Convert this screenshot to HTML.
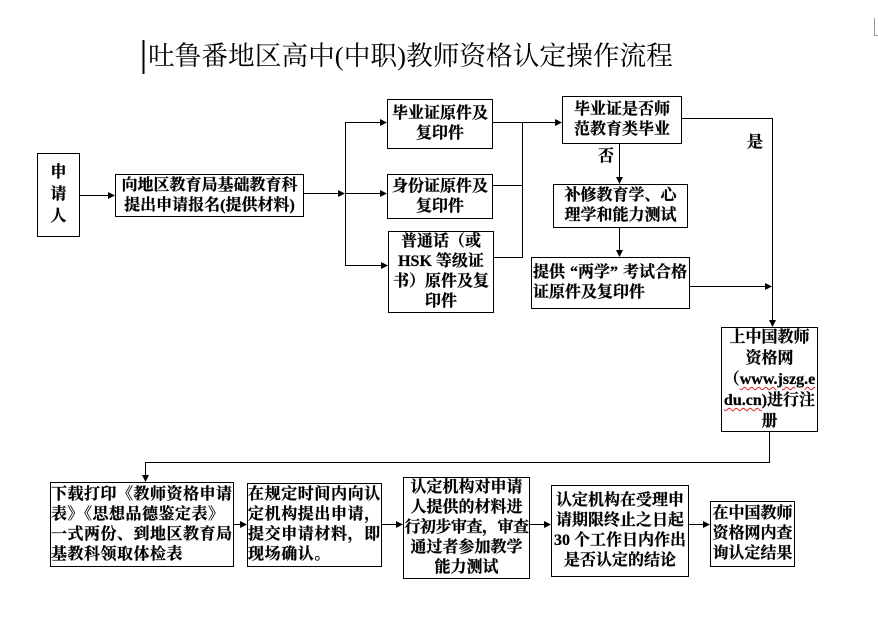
<!DOCTYPE html>
<html><head><meta charset="utf-8"><style>
html,body{margin:0;padding:0;background:#fff;}
body{width:878px;height:623px;position:relative;overflow:hidden;}
.t{position:absolute;font-family:"Liberation Serif","Noto Serif CJK SC",serif;color:#000;white-space:nowrap;}
.b{position:absolute;border:1px solid #000;box-sizing:border-box;display:flex;flex-direction:column;justify-content:center;align-items:center;text-align:center;font-family:"Liberation Serif","Noto Serif CJK SC",serif;font-weight:bold;font-size:16px;line-height:20px;white-space:nowrap;color:#000;background:#fff;-webkit-text-stroke:0.25px #000;}
.b > div{display:block;}
.l{align-items:flex-start;text-align:left;}
.u{text-decoration:underline wavy #e02020;text-decoration-thickness:1px;text-underline-offset:2px;}
.q{display:inline-block;width:13px;}
</style></head><body>
<svg width="878" height="623" style="position:absolute;left:0;top:0" xmlns="http://www.w3.org/2000/svg">
<rect x="142.5" y="40" width="2" height="34" fill="#000"/>
<path d="M874.5 18 V35.5 H878" stroke="#999" fill="none" stroke-width="1"/>
<g stroke="#000" stroke-width="1" fill="none">
<path d="M80 195.5 H110"/>
<path d="M303 193.5 H340"/>
<path d="M345.5 122 V266"/>
<path d="M345 122.5 H382"/>
<path d="M345 193.5 H382"/>
<path d="M345 265.5 H383"/>
<path d="M492 122.5 H557"/>
<path d="M492 185.5 H522"/>
<path d="M493 257.5 H522"/>
<path d="M522.5 122 V258"/>
<path d="M681 118.5 H772.5 V321"/>
<path d="M619.5 143 V178"/>
<path d="M619.5 227 V251"/>
<path d="M689 286.5 H766"/>
<path d="M769.5 431 V462.5 H145.5 V476"/>
<path d="M233 524.5 H241"/>
<path d="M381 524.5 H397"/>
<path d="M529 524.5 H545"/>
<path d="M688 524.5 H704"/>
</g>
<g fill="#000">
<polygon points="115,195.5 108,192 108,199"/>
<polygon points="345,193.5 338,190 338,197"/>
<polygon points="387,122.5 380,119 380,126"/>
<polygon points="387,193.5 380,190 380,197"/>
<polygon points="388,265.5 381,262 381,269"/>
<polygon points="562,122.5 555,119 555,126"/>
<polygon points="772.5,327 769,320 776,320"/>
<polygon points="619.5,184 616,177 623,177"/>
<polygon points="619.5,257 616,250 623,250"/>
<polygon points="772,286.5 765,283 765,290"/>
<polygon points="145.5,482 142,475 149,475"/>
<polygon points="247,524.5 240,521 240,528"/>
<polygon points="403,524.5 396,521 396,528"/>
<polygon points="551,524.5 544,521 544,528"/>
<polygon points="710,524.5 703,521 703,528"/>
</g>
</svg>

<div class="t" style="left:148px;top:41px;font-size:26.7px;line-height:30px;">吐鲁番地区高中(中职)教师资格认定操作流程</div>

<div class="b" style="left:37px;top:153px;width:43px;height:84px;line-height:22px;"><div>申<br>请<br>人</div></div>
<div class="b" style="left:115px;top:174px;width:189px;height:43px;"><div>向地区教育局基础教育科<br>提出申请报名(提供材料)</div></div>

<div class="b" style="left:387px;top:99px;width:106px;height:50px;"><div>毕业证原件及<br>复印件</div></div>
<div class="b" style="left:387px;top:174px;width:106px;height:45px;"><div>身份证原件及<br>复印件</div></div>
<div class="b" style="left:388px;top:231px;width:106px;height:82px;"><div>普通话（或<br>HSK 等级证<br>书）原件及复<br>印件</div></div>

<div class="b" style="left:562px;top:96px;width:120px;height:48px;"><div>毕业证是否师<br>范教育类毕业</div></div>
<div class="t" style="left:598px;top:147px;font-size:16px;line-height:20px;font-weight:bold;-webkit-text-stroke:0.25px #000;">否</div>
<div class="t" style="left:747px;top:133px;font-size:16px;line-height:20px;font-weight:bold;-webkit-text-stroke:0.25px #000;">是</div>
<div class="b" style="left:553px;top:184px;width:135px;height:44px;"><div>补修教育学、心<br>理学和能力测试</div></div>
<div class="b l" style="left:531px;top:257px;width:159px;height:52px;padding-left:1px;"><div>提供<span class="q" style="text-align:right">“</span>两学<span class="q" style="text-align:left">”</span>考试合格<br>证原件及复印件</div></div>

<div class="b" style="left:721px;top:327px;width:97px;height:105px;line-height:21px;"><div>上中国教师<br>资格网<br>（<span class="u">www.jszg.e</span><br><span class="u">du.cn</span>)进行注<br>册</div></div>

<div class="b l" style="left:50px;top:482px;width:184px;height:85px;letter-spacing:0.5px;"><div>下载打印《教师资格申请<br>表》《思想品德鉴定表》<br>一式两份、到地区教育局<br>基教科领取体检表</div></div>
<div class="b l" style="left:247px;top:483px;width:135px;height:84px;letter-spacing:0.6px;"><div>在规定时间内向认<br>定机构提出申请，<br>提交申请材料，即<br>现场确认。</div></div>
<div class="b" style="left:403px;top:477px;width:127px;height:102px;"><div>认定机构对申请<br>人提供的材料进<br><span style="letter-spacing:-0.5px">行初步审查，审查</span><br>通过者参加教学<br>能力测试</div></div>
<div class="b" style="left:551px;top:485px;width:138px;height:92px;"><div>认定机构在受理申<br>请期限终止之日起<br>30 个工作日内作出<br>是否认定的结论</div></div>
<div class="b" style="left:710px;top:501px;width:85px;height:66px;"><div>在中国教师<br>资格网内查<br>询认定结果</div></div>
</body></html>
